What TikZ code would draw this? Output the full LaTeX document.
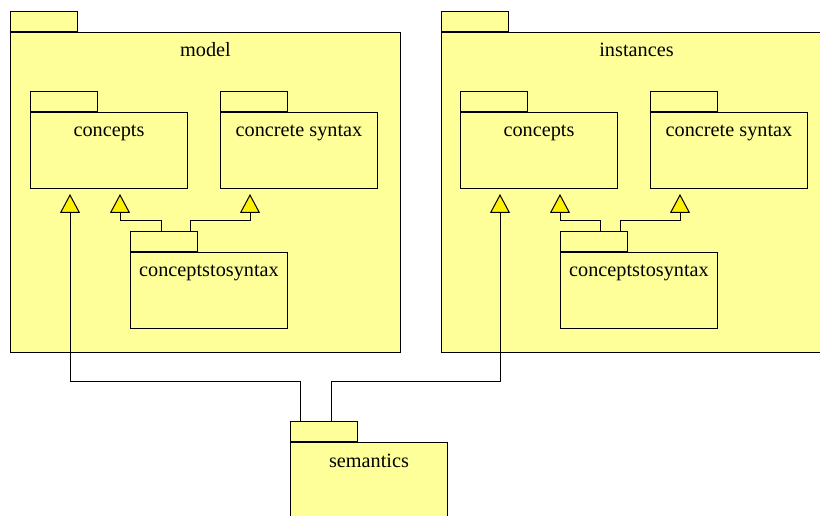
\documentclass[tikz,border=0pt]{standalone}
\usepackage{fontspec}
\setmainfont{Liberation Serif}
\usetikzlibrary{arrows.meta,calc}
\definecolor{pkgfill}{RGB}{255,255,153}
\tikzset{every picture/.style={line width=0.75pt}}
\tikzset{
	every node/.style={font=\fontsize{15.2}{18}\selectfont},
	pkg/.style={draw, fill=pkgfill, anchor=north west, inner sep=0pt, minimum width=117.75pt, minimum height=57pt},
	bigpkg/.style={pkg, minimum width=292.5pt, minimum height=240pt},
	pkgtab/.style={draw, fill=pkgfill, anchor=south west, inner sep=0pt, minimum width=50.25pt, minimum height=15pt},
	pkgname/.style={anchor=base, yshift=-18.75pt},
	gen/.style={-{Triangle[length=14.25pt, width=15pt, fill=yellow]}}}

\begin{document}
\begin{tikzpicture}[x=0.75pt,y=0.75pt,yscale=-1,xscale=1]
	\clip (0,0) rectangle (820,516);

	%Package: model
	\node [bigpkg, label={[pkgname]north:model}] (model) at (10,32) {};
	\node [pkgtab] (modeltab) at (model.north west) {};
	%Package: instances
	\node [bigpkg, label={[pkgname]north:instances}] (inst) at (441,32) {};
	\node [pkgtab] (insttab) at (inst.north west) {};

	%Packages inside model
	\node [pkg, label={[pkgname]north:concepts}] (mcon) at (30,112) {};
	\node [pkgtab] (mcontab) at (mcon.north west) {};
	\node [pkg, label={[pkgname]north:concrete syntax}] (msyn) at (220,112) {};
	\node [pkgtab] (msyntab) at (msyn.north west) {};
	\node [pkg, label={[pkgname]north:conceptstosyntax}] (mcst) at (130,252) {};
	\node [pkgtab] (mcsttab) at (mcst.north west) {};

	%Packages inside instances
	\node [pkg, label={[pkgname]north:concepts}] (icon) at (460,112) {};
	\node [pkgtab] (icontab) at (icon.north west) {};
	\node [pkg, label={[pkgname]north:concrete syntax}] (isyn) at (650,112) {};
	\node [pkgtab] (isyntab) at (isyn.north west) {};
	\node [pkg, label={[pkgname]north:conceptstosyntax}] (icst) at (560,252) {};
	\node [pkgtab] (icsttab) at (icst.north west) {};

	%Package: semantics
	\node [pkg, minimum height=75pt, label={[pkgname]north:semantics}] (sem) at (290,442) {};
	\node [pkgtab] (semtab) at (sem.north west) {};

	%Generalizations in model
	\draw [gen] ($(mcsttab.north west)+(31,0)$) -- ++(0,-10) -| ($(mcon.south west)+(90,5)$);
	\draw [gen] ($(mcsttab.north west)+(60,0)$) -- ++(0,-10) -| ($(msyn.south west)+(30,5)$);
	%Generalizations in instances
	\draw [gen] ($(icsttab.north west)+(40,0)$) -- ++(0,-10) -| ($(icon.south west)+(100,5)$);
	\draw [gen] ($(icsttab.north west)+(60,0)$) -- ++(0,-10) -| ($(isyn.south west)+(30,5)$);
	%Generalizations from semantics
	\draw [gen] ($(semtab.north west)+(10,0)$) -- ++(0,-40) -| ($(mcon.south west)+(40,5)$);
	\draw [gen] ($(semtab.north west)+(41,0)$) -- ++(0,-40) -| ($(icon.south west)+(40,5)$);

\end{tikzpicture}
\end{document}
